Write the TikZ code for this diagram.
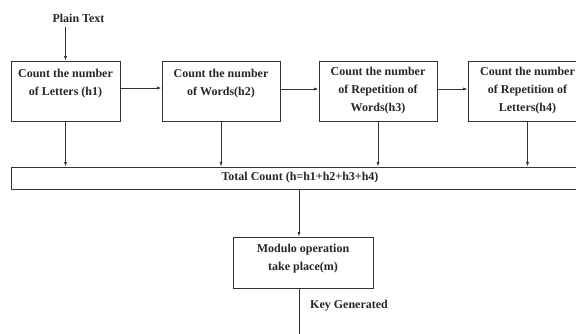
\documentclass[tikz,border=0pt]{standalone}
\usepackage{fontspec}
\setmainfont{Liberation Serif}
\usetikzlibrary{arrows.meta,positioning}
\tikzset{
    count-box/.style = {draw=black!80, rectangle, line width=0.8pt, minimum width=118pt, minimum height=60pt, inner sep=2pt, align=center, font=\fontsize{12}{18}\selectfont\bfseries, text=black!85},
    plain-label/.style = {font=\fontsize{12}{18}\selectfont\bfseries, text=black!85, inner sep=5pt},
    flow-arrow/.style = {-{Latex[length=4.5pt,width=3pt]}, line width=0.8pt, draw=black!80},
    flow-line/.style = {line width=0.8pt, draw=black!80},
}

\begin{document}
\begin{tikzpicture}[x=1pt, y=-1pt]
\useasboundingbox (0,0) rectangle (576,333);
\clip (0,0) rectangle (576,333);
\node[plain-label] (plain) at (78.5,18) {Plain Text};
\node[count-box, minimum width=109pt] (letters) at (65.5,91) {Count the number\\of Letters (h1)\\~};
\node[count-box] (words) at (221,91) {Count the number\\of Words(h2)\\~};
\node[count-box] (rep-words) at (378,91) {Count the number\\of Repetition of\\Words(h3)};
\node[count-box, minimum width=119pt] (rep-letters) at (527.5,91) {Count the number\\of Repetition of\\Letters(h4)};
\node[count-box, minimum width=578pt, minimum height=22pt] (total) at (300,178) {Total Count (h=h1+h2+h3+h4)};
\node[count-box, minimum width=140pt, minimum height=51pt] (modulo) at (303,262.5) {Modulo operation\\take place(m)\\[-8pt]~};
\node[plain-label, anchor=west] (key) at (305,306) {Key Generated};
\coordinate (key-end) at (299,340);

\draw[flow-arrow] (plain.south -| letters) -- (letters.north);
\draw[flow-arrow] ([yshift=3pt]letters.east) -- ([yshift=3pt]words.west);
\draw[flow-arrow] ([yshift=2pt]words.east) -- ([yshift=2pt]rep-words.west);
\draw[flow-arrow] ([yshift=2pt]rep-words.east) -- ([yshift=2pt]rep-letters.west);
\foreach \n in {letters, words, rep-words, rep-letters}
    \draw[flow-arrow] (\n) -- (\n |- total.north);
\draw[flow-arrow] (total.south -| key-end) -- (key-end |- modulo.north);
\draw[flow-line] (modulo.south -| key-end) -- (key-end);
\end{tikzpicture}
\end{document}
